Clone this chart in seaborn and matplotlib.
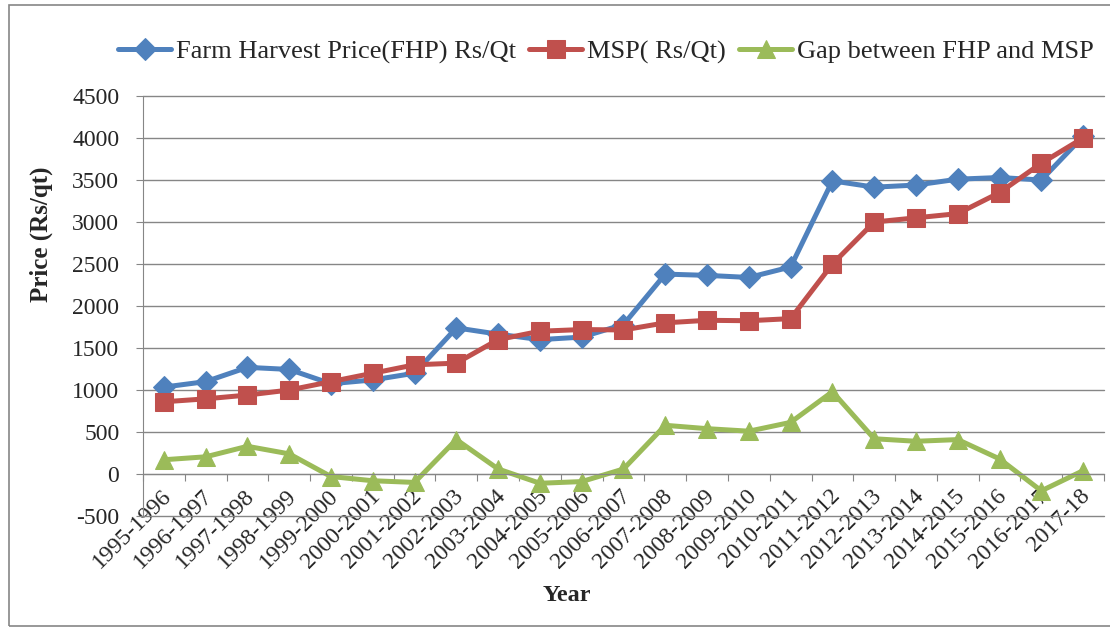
import matplotlib
matplotlib.use("Agg")
import matplotlib.pyplot as plt
import matplotlib.transforms as mtransforms
import seaborn as sns
import pandas as pd
from matplotlib.patches import Rectangle

years = ["1995-1996", "1996-1997", "1997-1998", "1998-1999", "1999-2000", "2000-2001",
         "2001-2002", "2002-2003", "2003-2004", "2004-2005", "2005-2006", "2006-2007",
         "2007-2008", "2008-2009", "2009-2010", "2010-2011", "2011-2012", "2012-2013",
         "2013-2014", "2014-2015", "2015-2016", "2016-2017", "2017-18"]
fhp = [1035, 1100, 1270, 1245, 1075, 1120, 1200, 1740, 1665, 1600, 1630, 1780,
       2380, 2365, 2340, 2465, 3490, 3415, 3440, 3510, 3530, 3500, 4020]
msp = [860, 895, 940, 1000, 1100, 1200, 1300, 1320, 1600, 1700, 1720, 1715,
       1800, 1830, 1825, 1850, 2500, 3000, 3050, 3100, 3350, 3700, 4000]
gap = [170, 205, 330, 240, -30, -80, -100, 410, 60, -110, -90, 60,
       580, 540, 510, 615, 980, 420, 390, 410, 180, -200, 40]

names = ["Farm Harvest Price(FHP) Rs/Qt", "MSP( Rs/Qt)", "Gap between FHP and MSP"]
colors = ["#4F81BD", "#C0504D", "#9BBB59"]
markers = ["D", "s", "^"]
msizes = [11.5, 13, 13.5]

sns.set_style("white")
plt.rcParams["font.family"] = ["Liberation Serif", "DejaVu Serif"]

fig = plt.figure(figsize=(11.10, 6.28), dpi=100)
ax = fig.add_axes([0.1288, 0.1783, 0.8658, 0.6688])

x = list(range(len(years)))
for name, vals, c, m, ms in zip(names, [fhp, msp, gap], colors, markers, msizes):
    df = pd.DataFrame({"x": x, "y": vals})
    sns.lineplot(data=df, x="x", y="y", ax=ax, color=c, marker=m, markersize=ms,
                 markeredgecolor=c, linewidth=3.6, label=name)

ax.set_xlim(-0.5, len(years) - 0.5)
ax.set_ylim(-500, 4500)
ax.set_yticks(range(-500, 4501, 500))
ax.set_yticklabels([str(v) for v in range(-500, 4501, 500)])
ax.tick_params(axis="y", labelsize=17, length=5, color="#868686", direction="out", left=True, pad=12)
ax.yaxis.grid(True, color="#868686", linewidth=1)
for gl in ax.get_ygridlines():
    gl.set_clip_on(False)
ax.set_axisbelow(True)

# category axis line at zero with boundary ticks
ax.spines["bottom"].set_position(("data", 0))
ax.spines["bottom"].set_color("#868686")
ax.spines["left"].set_color("#868686")
ax.spines["top"].set_visible(False)
ax.spines["right"].set_visible(False)
ax.set_xticks([i + 0.5 for i in range(-1, len(years))])
ax.set_xticklabels([])
ax.tick_params(axis="x", which="major", bottom=True, length=5, color="#868686", direction="out")
ax.set_xticks(x, minor=True)
ax.set_xticklabels(years, minor=True, rotation=45, ha="right", va="center",
                   rotation_mode="anchor", fontsize=17)
ax.tick_params(axis="x", which="minor", bottom=True, length=0, pad=12)
shift = mtransforms.ScaledTranslation(4 / 100, -2 / 100, fig.dpi_scale_trans)
for lbl in ax.get_xticklabels(minor=True):
    lbl.set_transform(lbl.get_transform() + shift)

ax.set_xlabel("Year", fontsize=17.5, fontweight="bold")
ax.xaxis.set_label_coords(0.441, -0.164)
ax.set_ylabel("Price (Rs/qt)", fontsize=18, fontweight="bold")
ax.yaxis.set_label_coords(-0.094, 0.67)

leg = ax.legend(loc="center", bbox_to_anchor=(0.482, 1.105), ncol=3, frameon=False,
                fontsize=19, handlelength=2.0, handletextpad=0.2, columnspacing=0.5,
                borderaxespad=0)

fig.patches.append(Rectangle((0.008, 0.003), 1.5, 0.989, transform=fig.transFigure,
                             fill=False, edgecolor="#868686", linewidth=1.2))

fig.savefig("out.png", dpi=100)
